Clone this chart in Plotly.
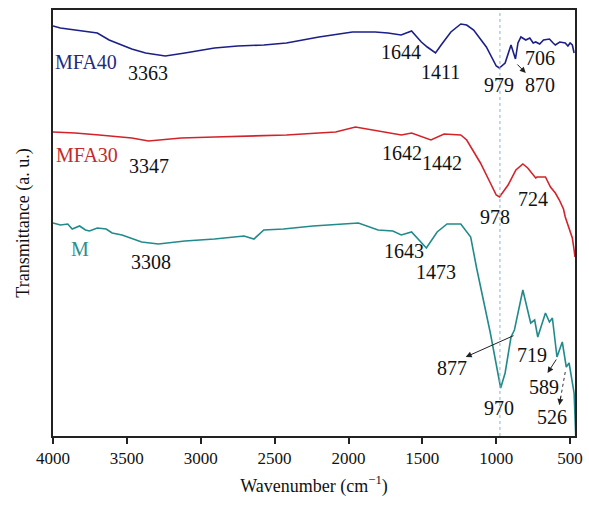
import plotly.graph_objects as go

# FTIR spectra (transmittance, arbitrary units, vertically offset)
wn_mfa40 = [4000, 3950, 3900, 3850, 3800, 3750, 3700, 3620, 3540, 3467, 3373, 3300, 3240, 3107,
            2907, 2750, 2573, 2420, 2200, 1973, 1820, 1733, 1644, 1573, 1507, 1467, 1411, 1373,
            1307, 1240, 1200, 1153, 1067, 1000, 979, 940, 900, 870, 853, 833, 800, 773, 750,
            733, 706, 680, 640, 615, 600, 570, 533, 515, 500, 485, 473]
t_mfa40 = [410, 408, 407, 406, 405, 404, 403, 396, 391, 387, 383, 381, 380, 383,
           388, 390, 391, 393, 399, 404, 404, 403, 401, 405, 394, 389, 383, 391,
           404, 412, 411, 406, 389, 370, 368, 373, 391, 377, 393, 399, 396, 398, 393,
           394, 392, 396, 397, 393, 391, 394, 393, 390, 393, 391, 383]

wn_mfa30 = [4000, 3850, 3687, 3467, 3353, 3133, 2907, 2620, 2420, 2200, 2087, 1953, 1840, 1707,
            1642, 1573, 1442, 1353, 1240, 1200, 1107, 1040, 1000, 978, 920, 867, 820, 787, 733,
            724, 667, 633, 600, 573, 545, 533, 500, 485, 473, 467]
t_mfa30 = [304, 303, 301, 298, 295, 298, 299, 300, 301, 303, 304, 309, 306, 303,
           301, 303, 296, 302, 301, 296, 273, 253, 241, 239, 251, 266, 272, 268, 258,
           259, 259, 249, 243, 236, 227, 219, 203, 198, 186, 179]

wn_m = [4000, 3950, 3900, 3870, 3820, 3780, 3753, 3700, 3640, 3600, 3533, 3400, 3287, 3107,
        2907, 2707, 2640, 2573, 2440, 2240, 1933, 1800, 1700, 1643, 1573, 1473, 1400, 1333,
        1240, 1173, 1133, 1087, 1040, 970, 940, 900, 877, 820, 767, 740, 719, 667, 640, 620,
        589, 553, 526, 507, 473, 462]
t_m = [213, 211, 212, 207, 210, 206, 205, 208, 207, 203, 201, 194, 192, 195,
       197, 200, 197, 206, 207, 210, 213, 206, 205, 201, 204, 188, 204, 212,
       212, 199, 168, 136, 103, 48, 63, 99, 106, 146, 113, 116, 99, 123, 114, 118,
       79, 94, 69, 73, 43, 0]

series_names = ["MFA40", "MFA30", "M"]
line_colors = ["#1b1f86", "#d3232a", "#228a8a"]
text_colors = ["#1f2a80", "#c42a2a", "#2a9090"]

# Peak labels: (text, wavenumber, a.u. position)
peak_labels = [
    ("3363", 3360, 363), ("1644", 1647, 384), ("1411", 1380, 364),
    ("979", 980, 351), ("870", 707, 351), ("706", 707, 378),
    ("3347", 3353, 270), ("1642", 1640, 283), ("1442", 1367, 273),
    ("978", 1007, 219), ("724", 753, 237),
    ("3308", 3340, 174), ("1643", 1627, 185), ("1473", 1407, 164),
    ("877", 1300, 68), ("970", 980, 28), ("719", 760, 81),
    ("589", 680, 49), ("526", 620, 19),
]
series_label_pos = [(3780, 374), (3767, 281), (3820, 187)]

# Arrows: (head wavenumber, head a.u., tail wavenumber, tail a.u.)
arrows = [
    (800, 363, 867, 373),
    (1207, 79, 873, 101),
    (653, 63, 587, 78),
]
dashed_arrow = (573, 31, 533, 64)
ref_line_wn = 975

FONT = "Liberation Serif"

fig = go.Figure()
for name, wn, t, c in zip(series_names, [wn_mfa40, wn_mfa30, wn_m],
                          [t_mfa40, t_mfa30, t_m], line_colors):
    fig.add_trace(go.Scatter(x=wn, y=t, mode="lines", name=name,
                             line=dict(color=c, width=1.6), showlegend=False))

fig.add_shape(type="line", xref="x", yref="paper", x0=ref_line_wn, x1=ref_line_wn,
              y0=0, y1=1, line=dict(color="#8fb3cc", width=1, dash="dot"))

for name, (px, py), tc in zip(series_names, series_label_pos, text_colors):
    fig.add_annotation(x=px, y=py, text=name, showarrow=False,
                       font=dict(family=FONT, size=20, color=tc))

for txt, px, py in peak_labels:
    fig.add_annotation(x=px, y=py, text=txt, showarrow=False,
                       font=dict(family=FONT, size=20, color="#111111"))

for hx, hy, tx, ty in arrows:
    fig.add_annotation(x=hx, y=hy, ax=tx, ay=ty, axref="x", ayref="y", text="",
                       showarrow=True, arrowhead=2, arrowsize=1.2, arrowwidth=1,
                       arrowcolor="#222222")

hx, hy, tx, ty = dashed_arrow
fig.add_shape(type="line", xref="x", yref="y", x0=tx, y0=ty, x1=hx, y1=hy,
              line=dict(color="#333333", width=1, dash="dot"))
fig.add_annotation(x=hx, y=hy, ax=hx + (tx - hx) * 0.3, ay=hy + (ty - hy) * 0.3,
                   axref="x", ayref="y", text="", showarrow=True, arrowhead=2,
                   arrowsize=1.2, arrowwidth=1, arrowcolor="#222222")

fig.update_xaxes(range=[4000, 467], tickvals=[4000, 3500, 3000, 2500, 2000, 1500, 1000, 500],
                 ticks="outside", ticklen=6, tickwidth=1.5, tickcolor="#222222",
                 showline=True, linecolor="#222222", linewidth=1.5, mirror=True,
                 showgrid=False, zeroline=False,
                 tickfont=dict(family=FONT, size=17, color="#111111"),
                 title=dict(text="Wavenumber (cm<sup>\u22121</sup>)",
                            font=dict(family=FONT, size=18, color="#111111"), standoff=12))
fig.update_yaxes(range=[0, 426], showticklabels=False, ticks="",
                 showline=True, linecolor="#222222", linewidth=1.5, mirror=True,
                 showgrid=False, zeroline=False,
                 title=dict(text="Transmittance (a. u.)",
                            font=dict(family=FONT, size=18, color="#111111"), standoff=17))

fig.update_layout(width=589, height=506, margin=dict(l=53, r=6, t=10, b=70),
                  paper_bgcolor="white", plot_bgcolor="white")

fig.write_html("out.html")
